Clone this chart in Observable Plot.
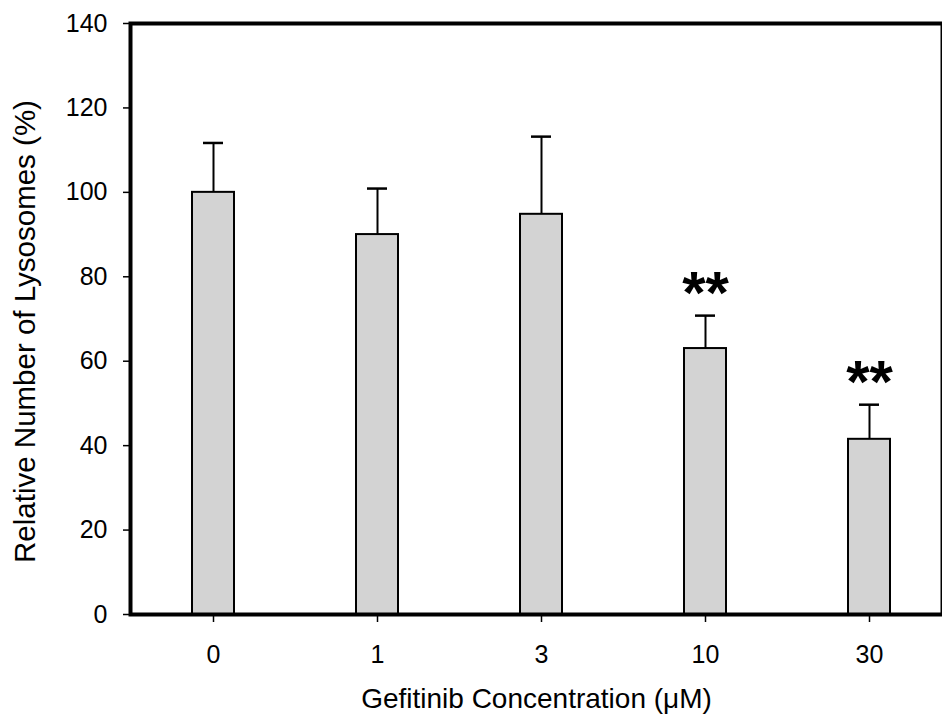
<!DOCTYPE html>
<html>
<head>
<meta charset="utf-8">
<script src="https://cdn.jsdelivr.net/npm/d3@7"></script>
<script src="https://cdn.jsdelivr.net/npm/@observablehq/plot@0.6"></script>
<style>
  html, body { margin: 0; padding: 0; background: #fff; }
  #chart svg { display: block; }
</style>
</head>
<body>
<div id="chart"></div>
<script>
const concentrations = ["0", "1", "3", "10", "30"];
const means = [100, 90.0, 94.8, 63.0, 41.5];
const errorTops = [111.7, 100.9, 113.2, 70.8, 49.7];
const significance = ["", "", "", "**", "**"];
const yTicks = [0, 20, 40, 60, 80, 100, 120, 140];
const xLabel = "Gefitinib Concentration (μM)";
const yLabel = "Relative Number of Lysosomes (%)";

const data = concentrations.map((c, i) => ({
  conc: c, value: means[i], errHigh: errorTops[i], sig: significance[i]
}));

const font = "'Liberation Sans', Arial, sans-serif";

const chart = Plot.plot({
  width: 942,
  height: 727,
  marginTop: 23,
  marginBottom: 113,
  marginLeft: 130,
  marginRight: 0,
  style: { fontFamily: font, color: "black", background: "white" },
  x: {
    type: "band",
    domain: concentrations,
    range: [130, 951.25],
    paddingInner: 0.744,
    paddingOuter: 0.372
  },
  y: { domain: [0, 140], range: [614, 23] },
  marks: [
    Plot.barY(data, { x: "conc", y: "value", fill: "#d3d3d3", stroke: "black", strokeWidth: 2 }),
    Plot.ruleX(data, { x: "conc", y1: "value", y2: "errHigh", stroke: "black", strokeWidth: 2 }),
    Plot.tickY(data, { x: "conc", y: "errHigh", stroke: "black", strokeWidth: 2.5, inset: 11 }),
    Plot.text(data, { x: "conc", y: "errHigh", text: "sig", dy: -22, fontSize: 60, fontWeight: "bold", fill: "black" }),
    Plot.frame({ stroke: "black", strokeWidth: 4 }),
    Plot.axisY({ ticks: yTicks, tickSize: 7, tickPadding: 16, fontSize: 25, strokeWidth: 1.5, label: null, tickFormat: d => String(d) }),
    Plot.axisX({ tickSize: 8, tickPadding: 23, fontSize: 25, strokeWidth: 1.5, label: null }),
    Plot.text([xLabel], { frameAnchor: "bottom", text: d => d, dy: 93, fontSize: 28, fill: "black" }),
    Plot.text([yLabel], { frameAnchor: "left", textAnchor: "middle", text: d => d, rotate: -90, dx: -105, dy: 12.5, fontSize: 29.5, fill: "black" })
  ]
});

document.getElementById("chart").appendChild(chart);
</script>
</body>
</html>
